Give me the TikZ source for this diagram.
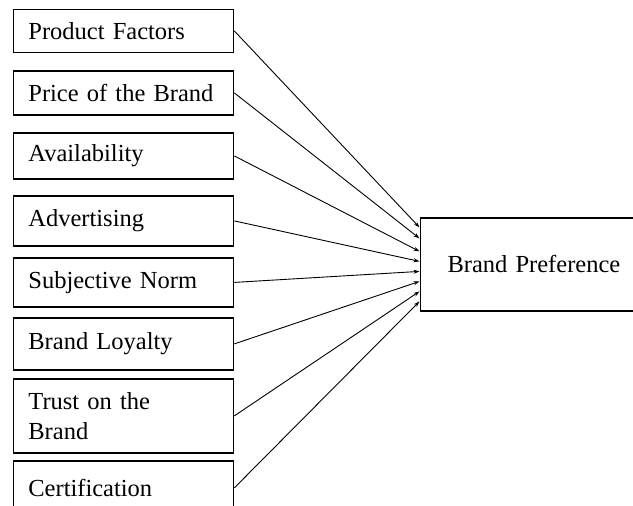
\documentclass[tikz,border=0pt]{standalone}
\usepackage{fontspec}
\setmainfont{Liberation Serif}
\usetikzlibrary{arrows.meta}
\begin{document}
\begin{tikzpicture}[x=1pt,y=-1pt,
  fbox/.style={draw=black,line width=1.8pt,rectangle,anchor=north west,
    minimum width=220pt,text width=190pt,align=left,inner xsep=15pt,inner ysep=0pt,
    font=\fontsize{24.5}{30}\selectfont},
  conn/.style={line width=0.9pt,-{Stealth[length=6pt,width=4pt]}}]
\useasboundingbox (0,0) rectangle (633,506);
\clip (0,0) rectangle (633,506);
\node[fbox,minimum height=43pt] (b1) at (12.5,8.5) {Product Factors};
\node[fbox,minimum height=44pt] (b2) at (12.5,70) {Price of the Brand};
\node[fbox,minimum height=46pt] (b3) at (12.5,132) {Availability};
\node[fbox,minimum height=50pt] (b4) at (12.5,195) {Advertising};
\node[fbox,minimum height=49pt] (b5) at (12.5,257) {Subjective Norm};
\node[fbox,minimum height=52pt] (b6) at (12.5,317) {Brand Loyalty};
\node[fbox,minimum height=74pt] (b7) at (12.5,378) {Trust on the\\Brand};
\node[fbox,minimum height=54pt] (b8) at (12.5,460) {Certification};
\node[fbox,minimum height=93pt,minimum width=227pt,text width=197pt,align=center] (bp) at (419.5,217) {Brand Preference};
\draw[conn] (b1.east) -- ([yshift=37pt]bp.west);
\draw[conn] (b2.east) -- ([yshift=26pt]bp.west);
\draw[conn] (b3.east) -- ([yshift=13pt]bp.west);
\draw[conn] (b4.east) -- ([yshift=3pt]bp.west);
\draw[conn] (b5.east) -- ([yshift=-7pt]bp.west);
\draw[conn] (b6.east) -- ([yshift=-17pt]bp.west);
\draw[conn] (b7.east) -- ([yshift=-27pt]bp.west);
\draw[conn] (b8.east) -- ([yshift=-37pt]bp.west);
\end{tikzpicture}
\end{document}
